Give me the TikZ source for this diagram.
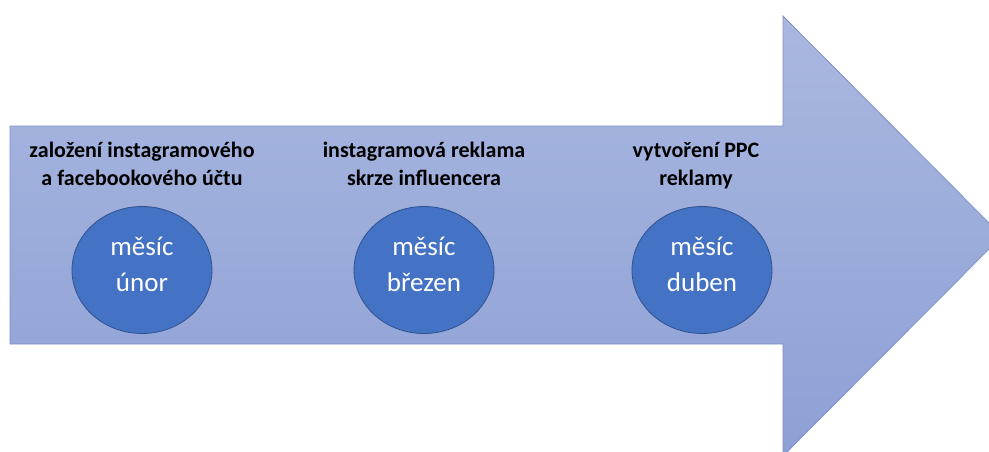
\documentclass[tikz,border=0pt]{standalone}
\usepackage{fontspec}
\setmainfont{Carlito}
\usetikzlibrary{positioning,shapes.geometric}
\definecolor{arrowtop}{RGB}{170,184,224}
\definecolor{arrowbot}{RGB}{141,160,213}
\definecolor{arrowline}{RGB}{125,145,204}
\definecolor{monthfill}{RGB}{68,114,196}
\definecolor{monthline}{RGB}{47,82,143}
\tikzset{
  month/.style={ellipse,draw=monthline,line width=0.8pt,fill=monthfill,text=white,
    minimum width=140pt,minimum height=127pt,inner sep=0pt,align=center,text depth=12pt,
    font=\fontsize{27}{36}\selectfont},
  task/.style={align=center,inner sep=0pt,text depth=0pt,font=\fontsize{22}{28}\selectfont\bfseries}
}
\begin{document}
\begin{tikzpicture}[x=1pt,y=1pt]
      \useasboundingbox (0,0) rectangle (989,451);
      \clip (0,0) rectangle (989,451);
      \shade[top color=arrowtop,bottom color=arrowbot,draw=arrowline,line width=0.8pt]
        (10,325) -- (783,325) -- (783,435) -- (1002,215) -- (783,-5) -- (783,107) -- (10,107) -- cycle;
      \node[month] (feb) at (142,181) {měsíc\\únor};
      \node[month] (mar) at (424,181) {měsíc\\březen};
      \node[month] (apr) at (702,181) {měsíc\\duben};
      \node[task,above=20pt of feb] (feblabel) {založení instagramového\\a facebookového účtu};
      \node[task,above=20pt of mar] (marlabel) {instagramová reklama\\skrze influencera};
      \node[task,above=20pt of apr,xshift=-6pt] (aprlabel) {vytvoření PPC\\reklamy};
    \end{tikzpicture}
\end{document}
